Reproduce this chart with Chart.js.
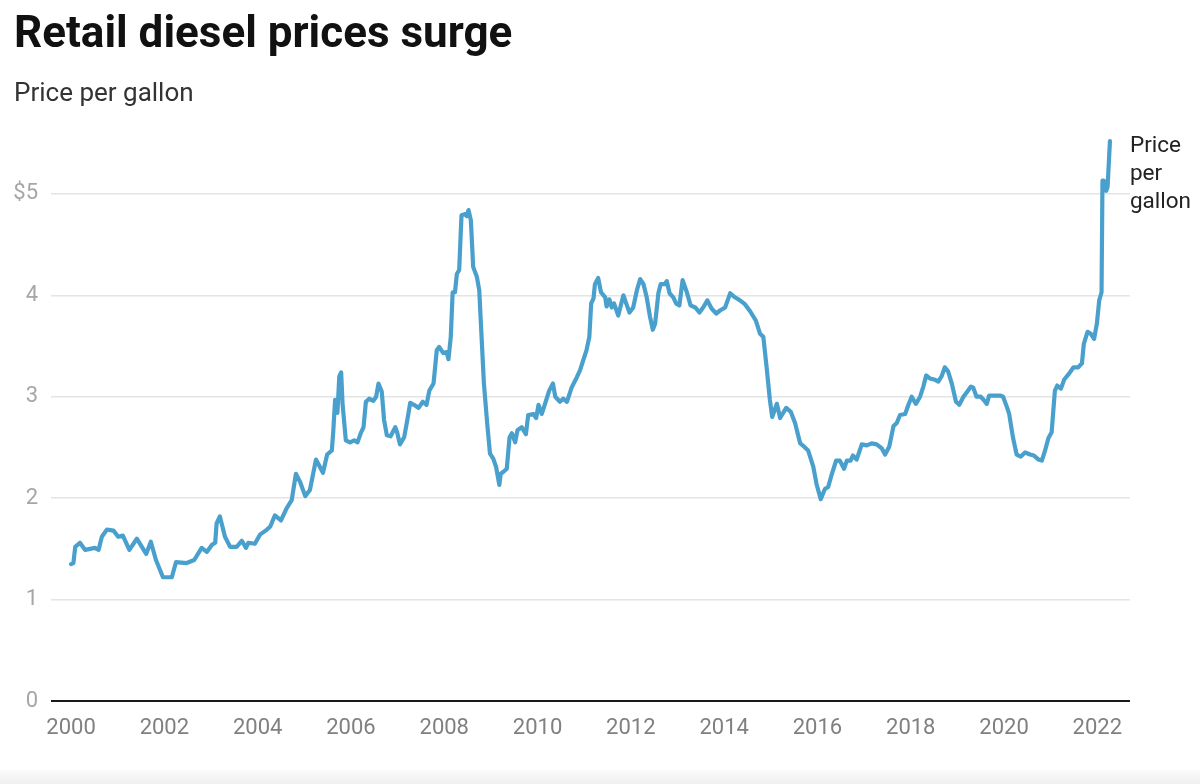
<!DOCTYPE html>
<html lang="en">
<head>
  <meta charset="UTF-8">
  <title>Retail diesel prices surge</title>
  <script src="https://cdn.jsdelivr.net/npm/chart.js"></script>
  <style>
    body {
      margin: 0;
      padding: 0;
      background: #fff;
      font-family: Roboto, Arial, sans-serif;
    }
    .page {
      position: relative;
      width: 1200px;
      height: 784px;
      overflow: hidden;
    }
    .title {
      position: absolute;
      left: 14px;
      top: 10px;
      margin: 0;
      font-size: 44px;
      line-height: 1;
      font-weight: 700;
      color: #111;
      z-index: 2;
    }
    .subtitle {
      position: absolute;
      left: 14px;
      top: 79px;
      font-size: 26px;
      line-height: 1;
      color: #333;
      z-index: 2;
    }
    .chart-container {
      position: absolute;
      left: 0;
      top: 0;
      width: 1200px;
      height: 784px;
    }
    .footer-band {
      position: absolute;
      left: 0;
      bottom: 0;
      width: 1200px;
      height: 14px;
      background: linear-gradient(#fbfbfb, #efefef);
    }
  </style>
</head>
<body>
  <div class="page">
    <h1 class="title">Retail diesel prices surge</h1>
    <div class="subtitle">Price per gallon</div>
    <div class="chart-container">
      <canvas id="dieselChart"></canvas>
    </div>
    <div class="footer-band"></div>
  </div>
  <script>
    // Decimal years of each reading
    const years = [
      2000.00, 2000.05, 2000.09, 2000.19, 2000.30, 2000.41, 2000.51, 2000.59, 2000.66, 2000.77, 2000.91,
      2001.01, 2001.11, 2001.25, 2001.41, 2001.61, 2001.71, 2001.82, 2001.97,
      2002.16, 2002.25, 2002.48, 2002.64, 2002.80, 2002.91,
      2003.02, 2003.09, 2003.12, 2003.19, 2003.30, 2003.41, 2003.55, 2003.66, 2003.75, 2003.80, 2003.94,
      2004.05, 2004.20, 2004.27, 2004.37, 2004.50, 2004.62, 2004.73, 2004.82, 2004.91,
      2005.02, 2005.12, 2005.25, 2005.40, 2005.49, 2005.59, 2005.62, 2005.66, 2005.71, 2005.75, 2005.79, 2005.82, 2005.89, 2005.98,
      2006.07, 2006.14, 2006.21, 2006.27, 2006.32, 2006.39, 2006.48, 2006.54, 2006.59, 2006.66, 2006.71, 2006.77, 2006.85, 2006.95, 2006.99,
      2007.05, 2007.14, 2007.20, 2007.27, 2007.35, 2007.45, 2007.54, 2007.62, 2007.68, 2007.77, 2007.84, 2007.89, 2007.98,
      2008.05, 2008.09, 2008.14, 2008.18, 2008.23, 2008.27, 2008.32, 2008.37, 2008.45, 2008.48, 2008.52, 2008.57, 2008.62, 2008.70, 2008.75, 2008.80, 2008.85, 2008.92, 2008.98,
      2009.05, 2009.11, 2009.18, 2009.21, 2009.27, 2009.34, 2009.40, 2009.45, 2009.52, 2009.57, 2009.66, 2009.75, 2009.80, 2009.91, 2009.97,
      2010.02, 2010.09, 2010.16, 2010.25, 2010.33, 2010.38, 2010.48, 2010.55, 2010.63, 2010.73, 2010.84, 2010.91, 2010.98,
      2011.05, 2011.11, 2011.15, 2011.20, 2011.23, 2011.30, 2011.36, 2011.45, 2011.48, 2011.54, 2011.59, 2011.64, 2011.73, 2011.84, 2011.90, 2011.97,
      2012.05, 2012.13, 2012.20, 2012.27, 2012.34, 2012.41, 2012.47, 2012.52, 2012.59, 2012.64, 2012.73, 2012.77, 2012.83, 2012.91, 2012.97,
      2013.04, 2013.11, 2013.20, 2013.28, 2013.38, 2013.47, 2013.55, 2013.64, 2013.73, 2013.83, 2013.91,
      2014.02, 2014.13, 2014.23, 2014.34, 2014.45, 2014.56, 2014.68, 2014.77, 2014.84, 2014.91, 2014.98,
      2015.03, 2015.13, 2015.20, 2015.33, 2015.43, 2015.52, 2015.63, 2015.71, 2015.80, 2015.91, 2015.98,
      2016.07, 2016.16, 2016.23, 2016.31, 2016.40, 2016.48, 2016.57, 2016.63, 2016.71, 2016.76, 2016.84, 2016.95,
      2017.06, 2017.16, 2017.27, 2017.38, 2017.45, 2017.54, 2017.63, 2017.70, 2017.77, 2017.88, 2017.95,
      2018.02, 2018.11, 2018.20, 2018.27, 2018.33, 2018.41, 2018.50, 2018.59, 2018.66, 2018.73, 2018.80, 2018.88, 2018.97,
      2019.04, 2019.13, 2019.21, 2019.29, 2019.34, 2019.41, 2019.50, 2019.56, 2019.63, 2019.68, 2019.77, 2019.84, 2019.93, 2019.98,
      2020.06, 2020.11, 2020.19, 2020.27, 2020.36, 2020.45, 2020.56, 2020.64, 2020.74, 2020.81, 2020.88, 2020.95,
      2021.02, 2021.09, 2021.14, 2021.22, 2021.29, 2021.38, 2021.49, 2021.59, 2021.67, 2021.71, 2021.79, 2021.86, 2021.93, 2021.99,
      2022.04, 2022.09, 2022.11, 2022.14, 2022.19, 2022.22, 2022.27
    ];

    // Retail diesel price in dollars per gallon, same order as years
    const prices = [
      1.35, 1.36, 1.52, 1.56, 1.49, 1.50, 1.51, 1.49, 1.62, 1.69, 1.68,
      1.62, 1.63, 1.49, 1.60, 1.45, 1.57, 1.39, 1.22,
      1.22, 1.37, 1.36, 1.39, 1.51, 1.47,
      1.54, 1.56, 1.75, 1.82, 1.62, 1.52, 1.52, 1.58, 1.51, 1.56, 1.55,
      1.64, 1.69, 1.72, 1.83, 1.78, 1.90, 1.98, 2.24, 2.16,
      2.02, 2.08, 2.38, 2.25, 2.43, 2.47, 2.65, 2.97, 2.84, 3.20, 3.24, 2.93, 2.57, 2.55,
      2.57, 2.55, 2.64, 2.70, 2.95, 2.98, 2.96, 3.00, 3.13, 3.05, 2.77, 2.62, 2.61, 2.70, 2.65,
      2.53, 2.60, 2.75, 2.94, 2.92, 2.89, 2.95, 2.92, 3.06, 3.13, 3.46, 3.49, 3.43,
      3.44, 3.37, 3.59, 4.03, 4.03, 4.21, 4.25, 4.79, 4.80, 4.78, 4.84, 4.74, 4.28, 4.18, 4.05, 3.59, 3.13, 2.74, 2.44,
      2.39, 2.31, 2.13, 2.24, 2.26, 2.29, 2.60, 2.64, 2.55, 2.67, 2.70, 2.63, 2.82, 2.83, 2.79,
      2.92, 2.83, 2.93, 3.06, 3.13, 3.00, 2.95, 2.98, 2.95, 3.09, 3.19, 3.26, 3.36,
      3.46, 3.59, 3.92, 3.97, 4.11, 4.17, 4.03, 3.98, 3.89, 3.96, 3.88, 3.92, 3.80, 4.00, 3.92, 3.83,
      3.88, 4.05, 4.16, 4.11, 3.98, 3.79, 3.66, 3.72, 4.02, 4.11, 4.11, 4.14, 4.02, 3.98, 3.92,
      3.90, 4.15, 4.03, 3.90, 3.88, 3.83, 3.88, 3.95, 3.87, 3.82, 3.85,
      3.88, 4.02, 3.98, 3.95, 3.91, 3.84, 3.75, 3.62, 3.59, 3.29, 2.97,
      2.80, 2.93, 2.79, 2.89, 2.85, 2.74, 2.54, 2.51, 2.47, 2.31, 2.14,
      1.99, 2.09, 2.11, 2.24, 2.37, 2.37, 2.29, 2.37, 2.37, 2.42, 2.38, 2.53,
      2.52, 2.54, 2.53, 2.49, 2.43, 2.51, 2.71, 2.74, 2.82, 2.83, 2.92,
      3.00, 2.93, 3.00, 3.10, 3.21, 3.18, 3.17, 3.15, 3.20, 3.29, 3.25, 3.13, 2.95,
      2.92, 3.00, 3.05, 3.10, 3.09, 3.00, 3.00, 2.97, 2.93, 3.01, 3.01, 3.01, 3.01, 3.00,
      2.90, 2.83, 2.60, 2.43, 2.41, 2.45, 2.43, 2.42, 2.38, 2.37, 2.47, 2.59,
      2.65, 3.06, 3.11, 3.08, 3.17, 3.22, 3.29, 3.29, 3.33, 3.52, 3.64, 3.62, 3.57, 3.72,
      3.95, 4.03, 5.13, 5.13, 5.03, 5.07, 5.52
    ];

    const xTickYears = [2000, 2002, 2004, 2006, 2008, 2010, 2012, 2014, 2016, 2018, 2020, 2022];
    const yTickValues = [0, 1, 2, 3, 4, 5];
    const seriesLabel = ['Price', 'per', 'gallon'];

    const lineColor = '#4aa0cd';

    /**
     * Draws the series name to the right of the last point
     */
    const endLabelPlugin = {
      id: 'endLabel',
      afterDatasetsDraw(chart) {
        const meta = chart.getDatasetMeta(0);
        const last = meta.data[meta.data.length - 1];
        if (!last) return;
        const ctx = chart.ctx;
        ctx.save();
        ctx.font = '22.5px Roboto, Arial, sans-serif';
        ctx.fillStyle = '#222';
        ctx.textAlign = 'left';
        ctx.textBaseline = 'middle';
        seriesLabel.forEach((line, i) => {
          ctx.fillText(line, last.x + 20, last.y + 5 + i * 28);
        });
        ctx.restore();
      }
    };

    function createChart() {
      const canvas = document.getElementById('dieselChart');
      const points = years.map((yr, i) => ({ x: yr, y: prices[i] }));

      return new Chart(canvas, {
        type: 'line',
        data: {
          datasets: [{
            label: 'Price per gallon',
            data: points,
            borderColor: lineColor,
            borderWidth: 4.2,
            pointRadius: 0,
            tension: 0,
            borderCapStyle: 'round',
            borderJoinStyle: 'round',
            fill: false
          }]
        },
        options: {
          responsive: true,
          maintainAspectRatio: false,
          animation: false,
          layout: { padding: { top: 133, right: 70, left: 0, bottom: 0 } },
          plugins: {
            legend: { display: false },
            tooltip: { enabled: false }
          },
          scales: {
            x: {
              type: 'linear',
              min: 1999.57,
              max: 2022.70,
              afterBuildTicks: (scale) => {
                scale.ticks = xTickYears.map(v => ({ value: v }));
              },
              afterFit: (scale) => { scale.height = 83; },
              grid: { display: false, drawTicks: false },
              border: { display: false },
              ticks: {
                padding: 14,
                color: '#808080',
                font: { family: 'Roboto', size: 22 },
                maxRotation: 0,
                callback: (v) => String(v)
              }
            },
            y: {
              min: 0,
              max: 5.6,
              afterBuildTicks: (scale) => {
                scale.ticks = yTickValues.map(v => ({ value: v }));
              },
              afterFit: (scale) => { scale.width = 51; },
              grid: {
                drawTicks: false,
                color: (c) => c.tick && c.tick.value === 0 ? '#1a1a1a' : '#e4e4e4',
                lineWidth: (c) => c.tick && c.tick.value === 0 ? 2 : 1.5
              },
              border: { display: false },
              ticks: {
                padding: 13,
                color: '#a6a6a6',
                font: { family: 'Roboto', size: 22 },
                callback: (v) => v === 5 ? '$5' : String(v)
              }
            }
          }
        },
        plugins: [endLabelPlugin]
      });
    }

    createChart();
  </script>
</body>
</html>
